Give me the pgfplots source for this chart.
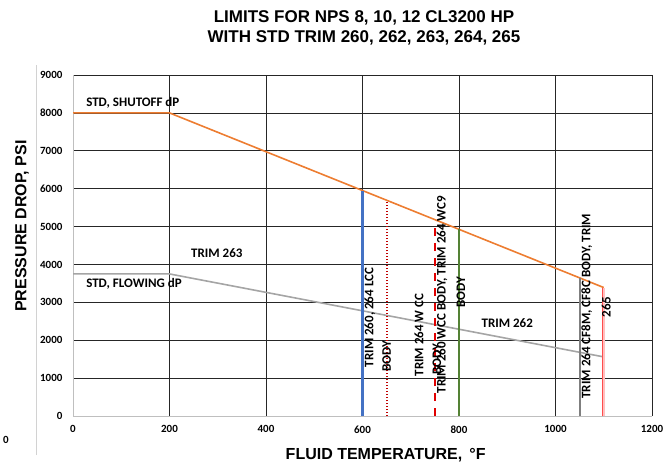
\documentclass[border=0pt]{standalone}
\usepackage{fontspec}
\setmainfont{Carlito}
\newfontfamily\arial{Liberation Sans}
\usepackage{pgfplots}
\pgfplotsset{compat=1.18}

\definecolor{xlorange}{HTML}{ED7D31}
\definecolor{xlgray}{HTML}{A5A5A5}
\definecolor{xlblue}{HTML}{4472C4}
\definecolor{xlgreen}{HTML}{548235}
\definecolor{xldkred}{HTML}{C00000}
\definecolor{xlred}{HTML}{E00000}
\definecolor{xldkgray}{HTML}{7F7F7F}

\tikzset{lbl/.style={font=\bfseries\fontsize{13}{15}\selectfont, inner sep=1pt}}

\begin{document}
\begin{tikzpicture}
\path[use as bounding box] (0,0) rectangle (663pt,475pt);
\node[font=\arial\bfseries\fontsize{17}{20}\selectfont, align=center] at (364pt,447pt)
  {LIMITS FOR NPS 8, 10, 12 CL3200 HP\\WITH STD TRIM 260, 262, 263, 264, 265};
% stray pieces left of the chart
\draw[gray!35, line width=0.8pt] (36pt,20pt) -- (36pt,410pt);
\node[font=\bfseries\fontsize{11}{12}\selectfont] at (6pt,35pt) {0};

\begin{axis}[
    at={(73pt,59pt)}, anchor=south west,
    scale only axis, width=579pt, height=341pt,
    xmin=0, xmax=1200, ymin=0, ymax=9000,
    xtick={0,200,...,1200}, ytick={0,1000,...,9000},
    grid=major, grid style={black!85, line width=0.8pt},
    axis x line*=bottom, axis y line*=left,
    axis line style={-, gray!50, line width=0.8pt},
    tick style={draw=none},
    tick label style={font=\bfseries\fontsize{11}{12}\selectfont},
    xticklabel style={yshift=-6pt},
    yticklabel style={xshift=-7pt},
    /pgf/number format/assume math mode=true,
    /pgf/number format/1000 sep={},
    xlabel={FLUID TEMPERATURE, \,°F},
    ylabel={PRESSURE DROP, PSI},
    label style={font=\arial\bfseries\fontsize{16}{18}\selectfont},
    xlabel style={at={(axis description cs:0.54,0)}, anchor=center, yshift=-39pt},
    ylabel style={at={(axis description cs:0,0.557)}, anchor=center, yshift=51pt},
    clip=false,
]
\addplot[xlorange, line width=1.6pt] coordinates {(0,8000)(200,8000)(1100,3390)};
\addplot[xlgray, line width=1.6pt] coordinates {(0,3750)(200,3750)(1100,1560)};
\addplot[xlblue, line width=2.4pt] coordinates {(600,0)(600,5950)};
\addplot[xldkred, dash pattern=on 1.5pt off 1.5pt, line width=1.8pt] coordinates {(650,0)(650,5690)};
\addplot[xlred, dash pattern=on 8pt off 7pt, line width=2.2pt] coordinates {(750,0)(750,5000)};
\addplot[xlgreen, line width=2.2pt] coordinates {(800,0)(800,4925)};
\addplot[xldkgray, line width=2pt] coordinates {(1050,0)(1050,3640)};
\addplot[draw=red!70, double=red!25, double distance=1.6pt, line width=0.8pt] coordinates {(1100,0)(1100,3390)};

\node[lbl, rotate=90] at (axis cs:615,2600) {TRIM 260, 264 LCC};
\node[lbl, rotate=90] at (axis cs:650,1580) {BODY};
\node[lbl, rotate=90] at (axis cs:717,2140) {TRIM 264 W CC};
\node[lbl, rotate=90] at (axis cs:754,1500) {BODY};
\node[lbl, rotate=90] at (axis cs:765,3200) {TRIM 260 WCC BODY, TRIM 264 WC9};
\node[lbl, rotate=90] at (axis cs:804,3260) {BODY};
\node[lbl, rotate=90] at (axis cs:1065,2900) {TRIM 264 CF8M, CF8C BODY, TRIM};
\node[lbl, rotate=90] at (axis cs:1105,2870) {265};
\node[lbl, anchor=west] at (axis cs:25,8260) {STD, SHUTOFF dP};
\node[lbl] at (axis cs:298,4300) {TRIM 263};
\node[lbl, anchor=west] at (axis cs:25,3500) {STD, FLOWING dP};
\node[lbl] at (axis cs:900,2450) {TRIM 262};
\end{axis}
\end{tikzpicture}
\end{document}
